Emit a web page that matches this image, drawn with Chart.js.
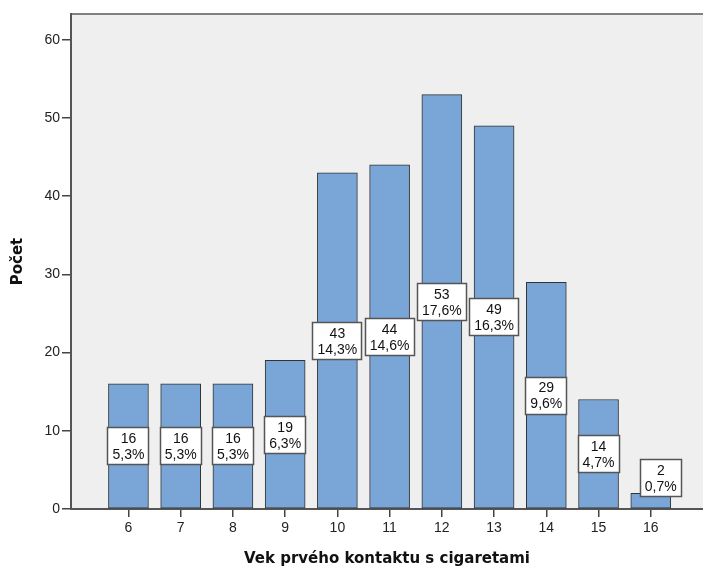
<!DOCTYPE html>
<html lang="sk">
<head>
    <meta charset="UTF-8">
    <title>Vek prvého kontaktu s cigaretami</title>
    <style>
        body { margin: 0; padding: 0; background: #ffffff; }
        #wrap { width: 703px; height: 572px; }
    </style>
</head>
<body>
    <div id="wrap"><canvas id="ageChart" width="703" height="572"></canvas></div>

    <script src="https://cdn.jsdelivr.net/npm/chart.js"></script>
    <script>
        // Data
        const ages = [6, 7, 8, 9, 10, 11, 12, 13, 14, 15, 16];
        const counts = [16, 16, 16, 19, 43, 44, 53, 49, 29, 14, 2];
        const percents = ['5,3%', '5,3%', '5,3%', '6,3%', '14,3%', '14,6%', '17,6%', '16,3%', '9,6%', '4,7%', '0,7%'];
        const yTicks = [0, 10, 20, 30, 40, 50, 60];

        const FONT = '"Liberation Sans", Arial, sans-serif';
        const TITLE_FONT = '"DejaVu Sans", Verdana, sans-serif';

        // plot background + top frame line
        const frame = {
            id: 'frame',
            beforeDraw(chart) {
                const { ctx, chartArea: a } = chart;
                ctx.save();
                ctx.fillStyle = '#efefef';
                ctx.fillRect(a.left, a.top, a.right - a.left, a.bottom - a.top);
                ctx.strokeStyle = '#808080';
                ctx.lineWidth = 2;
                ctx.beginPath();
                ctx.moveTo(a.left, a.top);
                ctx.lineTo(a.right, a.top);
                ctx.stroke();
                ctx.restore();
            }
        };

        // count / percent boxes in the middle of each bar
        const boxes = {
            id: 'boxes',
            afterDatasetsDraw(chart) {
                const { ctx } = chart;
                const xs = chart.scales.x, ys = chart.scales.y;
                const base = ys.getPixelForValue(0);
                ctx.save();
                ctx.font = '14px ' + FONT;
                ctx.textAlign = 'center';
                ctx.textBaseline = 'middle';
                counts.forEach((c, i) => {
                    let cx = xs.getPixelForValue(ages[i]);
                    let cy = ys.getPixelForValue(c / 2);
                    const w = Math.round(Math.max(ctx.measureText(String(c)).width, ctx.measureText(percents[i]).width) + 10);
                    const h = 38;
                    if (cy + h / 2 > base - 12) {
                        cy = base - 12 - h / 2;
                        cx += 10;
                    }
                    const x0 = Math.round(cx - w / 2), y0 = Math.round(cy - h / 2);
                    ctx.fillStyle = '#ffffff';
                    ctx.fillRect(x0, y0, w, h);
                    ctx.strokeStyle = '#555555';
                    ctx.lineWidth = 1.5;
                    ctx.strokeRect(x0 + 0.5, y0 + 0.5, w - 1, h - 1);
                    ctx.fillStyle = '#111111';
                    ctx.fillText(String(c), cx, cy - 7);
                    ctx.fillText(percents[i], cx, cy + 9);
                });
                ctx.restore();
            }
        };

        new Chart(document.getElementById('ageChart').getContext('2d'), {
            type: 'bar',
            data: {
                datasets: [{
                    data: ages.map((a, i) => ({ x: a, y: counts[i] })),
                    backgroundColor: '#79a6d6',
                    borderColor: '#333333',
                    borderWidth: 1,
                    borderSkipped: false,
                    barThickness: 40
                }]
            },
            options: {
                responsive: false,
                animation: false,
                layout: { padding: { top: 14, right: 0, left: 0, bottom: 0 } },
                plugins: { legend: { display: false }, tooltip: { enabled: false } },
                scales: {
                    x: {
                        type: 'linear',
                        offset: false,
                        min: 4.9,
                        max: 17,
                        afterBuildTicks: s => { s.ticks = ages.map(v => ({ value: v })); },
                        afterFit: s => { s.height = 63; },
                        grid: { display: true, offset: false, drawOnChartArea: false, tickLength: 8, color: '#444', lineWidth: 1.5 },
                        border: { display: true, color: '#555', width: 2 },
                        ticks: { color: '#222', font: { family: FONT, size: 14 }, padding: 3, maxRotation: 0 },
                        title: {
                            display: true,
                            text: 'Vek prvého kontaktu s cigaretami',
                            color: '#111',
                            font: { family: TITLE_FONT, size: 15, weight: 'bold' },
                            padding: { top: 0, bottom: 4 }
                        }
                    },
                    y: {
                        min: 0,
                        max: 63.3,
                        afterBuildTicks: s => { s.ticks = yTicks.map(v => ({ value: v })); },
                        afterFit: s => { s.width = 71; },
                        grid: { display: true, drawOnChartArea: false, tickLength: 9, color: '#444', lineWidth: 1.5 },
                        border: { display: true, color: '#555', width: 2 },
                        ticks: { color: '#222', font: { family: FONT, size: 14 }, padding: 2 },
                        title: {
                            display: true,
                            text: 'Počet',
                            color: '#111',
                            font: { family: TITLE_FONT, size: 15, weight: 'bold' },
                            padding: { top: 9, bottom: 0 }
                        }
                    }
                }
            },
            plugins: [frame, boxes]
        });
    </script>
</body>
</html>
